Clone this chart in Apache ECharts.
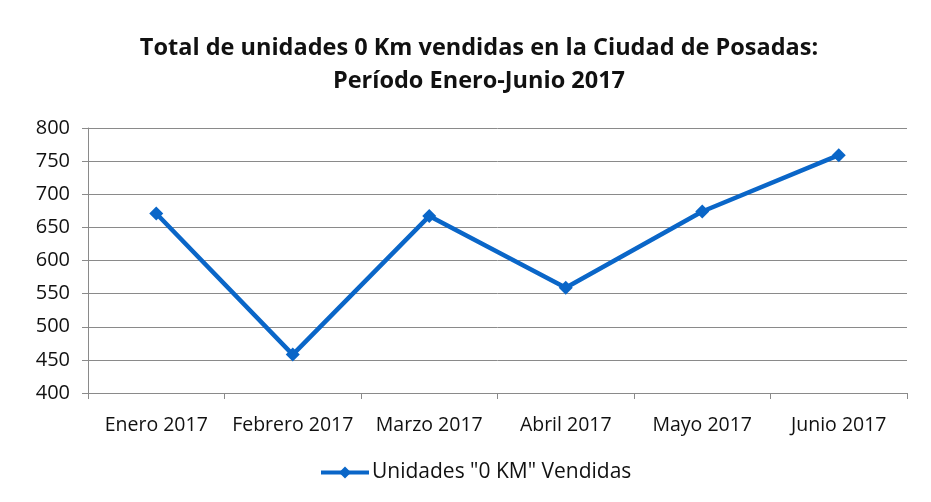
<!DOCTYPE html>
<html>
<head>
<meta charset="utf-8">
<script src="https://cdn.jsdelivr.net/npm/echarts@6/dist/echarts.min.js"></script>
<style>
  html, body { margin: 0; padding: 0; background: #ffffff; }
  #chart { width: 931px; height: 502px; }
</style>
</head>
<body>
<div id="chart"></div>
<script>
  // datos del gráfico
  const categories = ['Enero 2017', 'Febrero 2017', 'Marzo 2017', 'Abril 2017', 'Mayo 2017', 'Junio 2017'];
  const ventas = [671, 458, 667, 559, 674, 759];
  const seriesName = 'Unidades "0 KM" Vendidas';
  const yMin = 400;
  const yMax = 800;
  const yStep = 50;

  const font = '"Liberation Sans Narrow", "Open Sans", sans-serif';
  const chart = echarts.init(document.getElementById('chart'));

  chart.setOption({
    backgroundColor: '#ffffff',
    animation: false,
    title: {
      text: 'Total de unidades 0 Km vendidas en la Ciudad de Posadas:\nPeríodo Enero-Junio 2017',
      left: 474,
      textAlign: 'center',
      top: 27,
      textStyle: {
        fontFamily: font,
        fontWeight: 'bold',
        fontSize: 23.5,
        lineHeight: 33,
        color: '#111111'
      }
    },
    legend: {
      top: 457,
      left: 314,
      itemWidth: 48,
      itemHeight: 15,
      itemGap: 4,
      lineStyle: { width: 4 },
      textStyle: { fontFamily: font, fontSize: 21, color: '#111111', padding: [0, 0, 0, -2] },
      data: [{ name: seriesName }]
    },
    grid: { left: 88, right: 24, top: 128, bottom: 109 },
    xAxis: {
      type: 'category',
      data: categories,
      boundaryGap: true,
      axisLine: { lineStyle: { color: '#8a8a8a', width: 1 } },
      axisTick: { show: true, length: 6, lineStyle: { color: '#8a8a8a' } },
      axisLabel: { fontFamily: font, fontSize: 19.5, color: '#111111', margin: 22, interval: 0 }
    },
    yAxis: {
      type: 'value',
      min: yMin,
      max: yMax,
      interval: yStep,
      axisLine: { show: true, lineStyle: { color: '#8a8a8a', width: 1 } },
      axisTick: { show: true, length: 6, lineStyle: { color: '#8a8a8a' } },
      axisLabel: { fontFamily: font, fontSize: 20, color: '#111111', margin: 18 },
      splitLine: { lineStyle: { color: '#8a8a8a', width: 1 } }
    },
    series: [{
      name: seriesName,
      type: 'line',
      data: ventas,
      symbol: 'diamond',
      symbolSize: 14,
      color: '#0a66c8',
      lineStyle: { color: '#0a66c8', width: 4.5 },
      itemStyle: { color: '#0a66c8' }
    }]
  });
</script>
</body>
</html>
